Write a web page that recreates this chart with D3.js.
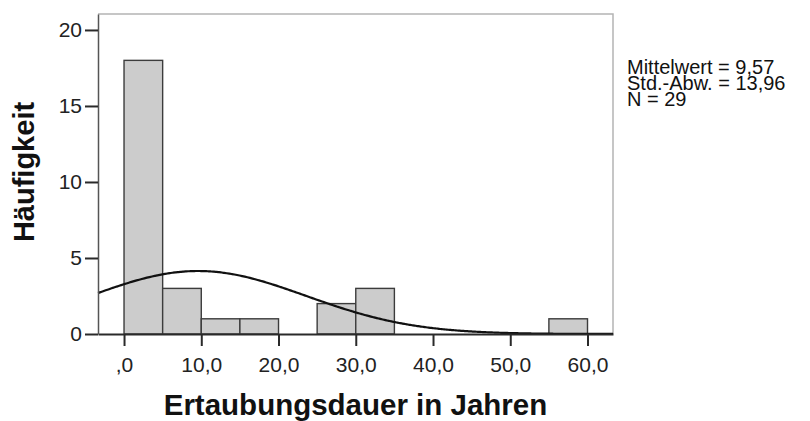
<!DOCTYPE html>
<html>
<head>
<meta charset="utf-8">
<script src="https://cdn.jsdelivr.net/npm/d3@7"></script>
<style>
  body { margin: 0; background: #fff; }
  svg { display: block; font-family: Arial, "Liberation Sans", sans-serif; }
</style>
</head>
<body>
<div id="app"></div>
<script>
// histogram bins (lower edge, upper edge, count)
const binStarts = [0, 5, 10, 15, 25, 30, 55];
const binEnds = [5, 10, 15, 20, 30, 35, 60];
const counts = [18, 3, 1, 1, 2, 3, 1];

const xTicks = [0, 10, 20, 30, 40, 50, 60];
const xTickLabels = [',0', '10,0', '20,0', '30,0', '40,0', '50,0', '60,0'];
const yTicks = [0, 5, 10, 15, 20];

const statLines = ['Mittelwert = 9,57', 'Std.-Abw. = 13,96', 'N = 29'];
const mean = 9.57;
const sd = 13.96;
const n = 29;
const binWidth = 5;

const width = 810;
const height = 421;
const plot = { left: 98, right: 613, top: 14, bottom: 334 };

const svg = d3.select('#app').append('svg')
  .attr('width', width)
  .attr('height', height);

const x = d3.scaleLinear()
  .domain([-3.37, 63.3])
  .range([plot.left, plot.right]);

const y = d3.scaleLinear()
  .domain([0, 21.05])
  .range([plot.bottom, plot.top]);

// frame (top and right are light)
svg.append('path')
  .attr('d', `M${plot.left},${plot.top}H${plot.right}V${plot.bottom}`)
  .attr('fill', 'none')
  .attr('stroke', '#b4b4b4')
  .attr('stroke-width', 1.5);

// bars
svg.append('g').selectAll('rect')
  .data(counts)
  .enter().append('rect')
  .attr('x', (d, i) => x(binStarts[i]))
  .attr('y', d => y(d))
  .attr('width', (d, i) => x(binEnds[i]) - x(binStarts[i]))
  .attr('height', d => y(0) - y(d))
  .attr('fill', '#cccccc')
  .attr('stroke', '#3c3c3c')
  .attr('stroke-width', 1.4);

// fitted normal curve from the shown statistics
const curveXs = d3.range(0, 201).map(i => x.domain()[0] + (x.domain()[1] - x.domain()[0]) * i / 200);
const normal = v => n * binWidth / (sd * Math.sqrt(2 * Math.PI)) * Math.exp(-0.5 * ((v - mean) / sd) ** 2);

svg.append('path')
  .datum(curveXs)
  .attr('d', d3.line().x(d => x(d)).y(d => y(normal(d))).curve(d3.curveBasis))
  .attr('fill', 'none')
  .attr('stroke', '#111')
  .attr('stroke-width', 2.2);

// axes
const xAxis = d3.axisBottom(x)
  .tickValues(xTicks)
  .tickFormat((d, i) => xTickLabels[i])
  .tickSize(12)
  .tickPadding(11)
  .tickSizeOuter(0);

const gx = svg.append('g')
  .attr('transform', `translate(0,${plot.bottom})`)
  .call(xAxis);
gx.select('.domain').attr('stroke', '#2a2a2a').attr('stroke-width', 2.2);
gx.selectAll('.tick line').attr('stroke', '#2a2a2a').attr('stroke-width', 2);
gx.selectAll('.tick text')
  .attr('font-size', 21)
  .attr('font-family', 'Arial, "Liberation Sans", sans-serif')
  .attr('fill', '#222');

const yAxis = d3.axisLeft(y)
  .tickValues(yTicks)
  .tickSize(13)
  .tickPadding(3)
  .tickSizeOuter(0);

const gy = svg.append('g')
  .attr('transform', `translate(${plot.left},0)`)
  .call(yAxis);
gy.select('.domain').attr('stroke', '#555').attr('stroke-width', 1.5);
gy.selectAll('.tick line').attr('stroke', '#2a2a2a').attr('stroke-width', 2);
gy.selectAll('.tick text')
  .attr('font-size', 21)
  .attr('font-family', 'Arial, "Liberation Sans", sans-serif')
  .attr('fill', '#222');

// titles
svg.append('text')
  .attr('x', (plot.left + plot.right) / 2)
  .attr('y', 415)
  .attr('text-anchor', 'middle')
  .attr('font-size', 29.5)
  .attr('font-weight', 'bold')
  .attr('fill', '#111')
  .text('Ertaubungsdauer in Jahren');

svg.append('text')
  .attr('transform', 'translate(34,172) rotate(-90)')
  .attr('text-anchor', 'middle')
  .attr('font-size', 29)
  .attr('font-weight', 'bold')
  .attr('fill', '#111')
  .text('Häufigkeit');

// statistics, one text block with tight line spacing
svg.append('text')
  .attr('x', 627)
  .attr('y', 74)
  .attr('font-size', 20)
  .attr('fill', '#111')
  .selectAll('tspan')
  .data(statLines)
  .enter().append('tspan')
  .attr('x', 627)
  .attr('dy', (d, i) => i ? 16 : 0)
  .text(d => d);
</script>
</body>
</html>
